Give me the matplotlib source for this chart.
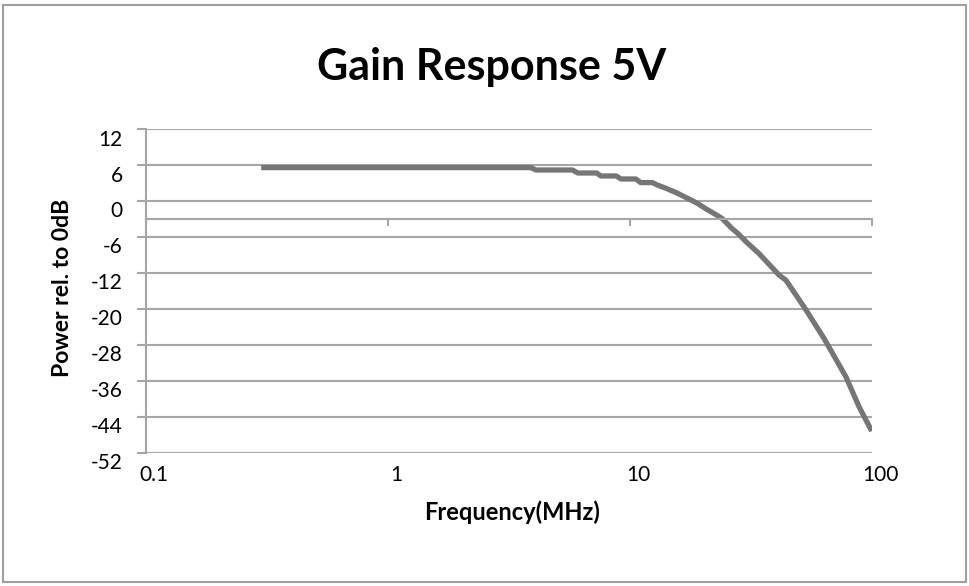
import numpy as np
import matplotlib
matplotlib.use("Agg")
import matplotlib.pyplot as plt
from matplotlib.patches import Rectangle
from matplotlib.transforms import ScaledTranslation

freq_mhz = [0.3, 3.9, 4.1, 5.8, 6.1, 7.3, 7.6, 8.8, 9.2, 10.6, 11.1, 12.4,
            13.0, 14.2, 15.6, 17.1, 18.9, 20.7, 22.8, 24.1, 26.5, 28.0,
            30.3, 34.3, 41.5, 44.2, 52.6, 63.6, 78.2, 88.7, 100.0]
gain_db = [5.6, 5.6, 5.2, 5.2, 4.7, 4.7, 4.2, 4.2, 3.7, 3.7, 3.1, 3.1,
           2.7, 2.1, 1.4, 0.6, -0.3, -1.3, -2.3, -2.9, -4.6, -5.4,
           -6.8, -8.8, -12.5, -13.6, -19.6, -26.6, -35.1, -41.8, -47.2]

y_ticks = [12, 6, 0, -6, -12, -20, -28, -36, -44, -52]
x_ticks = [0.1, 1, 10, 100]
x_tick_labels = ["0.1", "1", "10", "100"]
axis_cross = -3

GRID = "#a6a6a6"
LINE = "#767676"


# the value axis steps 6 dB per gridline above -12 and 8 dB below
def fwd(y):
    y = np.asarray(y, dtype=float)
    return np.where(y >= -12, y / 6.0, -2 + (y + 12) / 8.0)


def inv(g):
    g = np.asarray(g, dtype=float)
    return np.where(g >= -2, g * 6.0, -12 + (g + 2) * 8.0)


plt.rcParams['font.family'] = ['Lato', 'DejaVu Sans']

fig = plt.figure(figsize=(9.69, 5.86), dpi=100)
fig.patches.append(Rectangle((0.003, 0.007), 0.994, 0.985, transform=fig.transFigure,
                             fill=False, edgecolor="#a0a0a0", linewidth=1.5))

ax = fig.add_axes([0.1504, 0.2275, 0.7492, 0.5519])
ax.set_xscale("log")
ax.set_yscale("function", functions=(fwd, inv))
ax.set_xlim(0.1, 100)
ax.set_ylim(-52, 12)

ax.plot(freq_mhz, gain_db, color=LINE, linewidth=3.8, solid_capstyle="butt")

ax.set_yticks(y_ticks)
ax.set_yticklabels([str(v) for v in y_ticks])
ax.yaxis.set_minor_locator(matplotlib.ticker.NullLocator())
ax.grid(axis="y", color=GRID, linewidth=1.5)
ax.set_axisbelow(True)

for s in ["top", "right"]:
    ax.spines[s].set_visible(False)
ax.spines["left"].set_color(GRID)
ax.spines["left"].set_linewidth(1.5)
ax.spines["bottom"].set_position(("data", axis_cross))
ax.spines["bottom"].set_color(GRID)
ax.spines["bottom"].set_linewidth(1.5)

ax.set_xticks(x_ticks)
ax.xaxis.set_minor_locator(matplotlib.ticker.NullLocator())
ax.tick_params(axis="x", direction="out", length=5, width=1.5, color=GRID,
               labelbottom=False)
ax.tick_params(axis="y", direction="out", length=6.5, width=1.5, color=GRID,
               labelsize=15, pad=10)
# excel hangs the value labels a little below their gridlines
shift = ScaledTranslation(0, -6 / 72, fig.dpi_scale_trans)
for lab in ax.get_yticklabels():
    lab.set_transform(lab.get_transform() + shift)

# category labels sit under the bottom gridline, not on the crossing axis
sec = ax.secondary_xaxis("bottom")
sec.set_xticks(x_ticks)
sec.set_xticklabels(x_tick_labels)
sec.xaxis.set_minor_locator(matplotlib.ticker.NullLocator())
sec.tick_params(length=0, labelsize=15, pad=9)
sec.spines["bottom"].set_visible(False)
xshift = ScaledTranslation(6 / 72, 0, fig.dpi_scale_trans)
for lab in sec.get_xticklabels():
    lab.set_transform(lab.get_transform() + xshift)

ax.set_ylabel("Power rel. to 0dB", fontsize=16.5, fontweight="bold")
ax.yaxis.set_label_coords(-0.10, 0.51)
fig.text(0.528, 0.1126, "Frequency(MHz)", fontsize=17, fontweight="bold",
         ha="center", va="baseline")
fig.text(0.507, 0.8635, "Gain Response 5V", fontsize=31, fontweight="bold",
         ha="center", va="baseline")

fig.savefig("out.png", dpi=100)
